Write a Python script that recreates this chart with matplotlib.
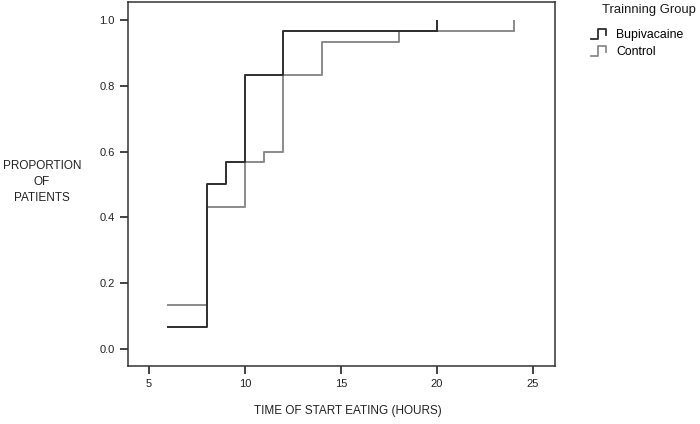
import matplotlib
matplotlib.use("Agg")
import matplotlib.pyplot as plt
from matplotlib.lines import Line2D
from matplotlib.legend_handler import HandlerBase

plt.rcParams['font.family'] = ['Liberation Sans', 'DejaVu Sans']

# Kaplan-Meier style step data (time in hours, cumulative proportion)
bupi_time = [6, 8, 9, 10, 12, 20]
bupi_prop = [0.067, 0.5, 0.567, 0.833, 0.967, 0.967]
ctrl_time = [6, 8, 10, 11, 12, 14, 18, 24]
ctrl_prop = [0.133, 0.433, 0.567, 0.6, 0.833, 0.933, 0.967, 0.967]

groups = ['Bupivacaine', 'Control']
colors = ['#2e2e2e', '#8a8a8a']

xticks = [5, 10, 15, 20, 25]
yticks = [0.0, 0.2, 0.4, 0.6, 0.8, 1.0]


class StepHandler(HandlerBase):
    # little step icon like the SPSS legend
    def create_artists(self, legend, orig_handle, xdescent, ydescent,
                       width, height, fontsize, trans):
        w, h = width, height
        xs = [0.0 * w, 0.4 * w, 0.4 * w, 0.85 * w, 0.85 * w]
        ys = [-0.15 * h, -0.15 * h, 1.0 * h, 1.0 * h, 0.35 * h]
        ln = Line2D(xs, ys, color=orig_handle.get_color(), lw=1.3,
                    transform=trans)
        return [ln]


fig = plt.figure(figsize=(7, 4.24), dpi=100)
ax = fig.add_axes([128 / 700, 58 / 424, 427 / 700, 364 / 424])

handles = {}
# control first so bupivacaine sits on top where they overlap
for name, t, p, c in zip(groups[::-1], [ctrl_time, bupi_time], [ctrl_prop, bupi_prop], colors[::-1]):
    h, = ax.step(t, p, where='post', color=c, lw=1.4)
    # censor mark at the end of the curve
    ax.vlines(t[-1], p[-1], p[-1] + 0.032, color=c, lw=1.4)
    handles[name] = h

ax.set_xlim(3.9, 26.15)
ax.set_ylim(-0.052, 1.055)
ax.set_xticks(xticks)
ax.set_yticks(yticks)
ax.set_yticklabels(['%.1f' % v for v in yticks])
ax.tick_params(direction='out', length=6, width=1.2, labelsize=8, colors='#222222')
for s in ax.spines.values():
    s.set_color('#333333')
    s.set_linewidth(1.1)

fig.text(42 / 700, 1 - 182 / 424, 'PROPORTION\nOF\nPATIENTS', ha='center', va='center',
         fontsize=8.5, linespacing=1.45, color='#222222')
fig.text(348 / 700, 1 - 411 / 424, 'TIME OF START EATING (HOURS)', ha='center', va='center',
         fontsize=8.5, color='#222222')

fig.text(602 / 700, 1 - 10 / 424, 'Trainning Group', ha='left', va='center',
         fontsize=9.4, color='#1a1a1a')
leg = fig.legend([handles[g] for g in groups], groups, handler_map={Line2D: StepHandler()},
                 loc='upper left', bbox_to_anchor=(582 / 700, 1 - 20 / 424), frameon=False,
                 fontsize=8.8, handlelength=1.5, handletextpad=0.6, labelspacing=0.45,
                 borderpad=0.2)

fig.savefig('out.png', dpi=100)
